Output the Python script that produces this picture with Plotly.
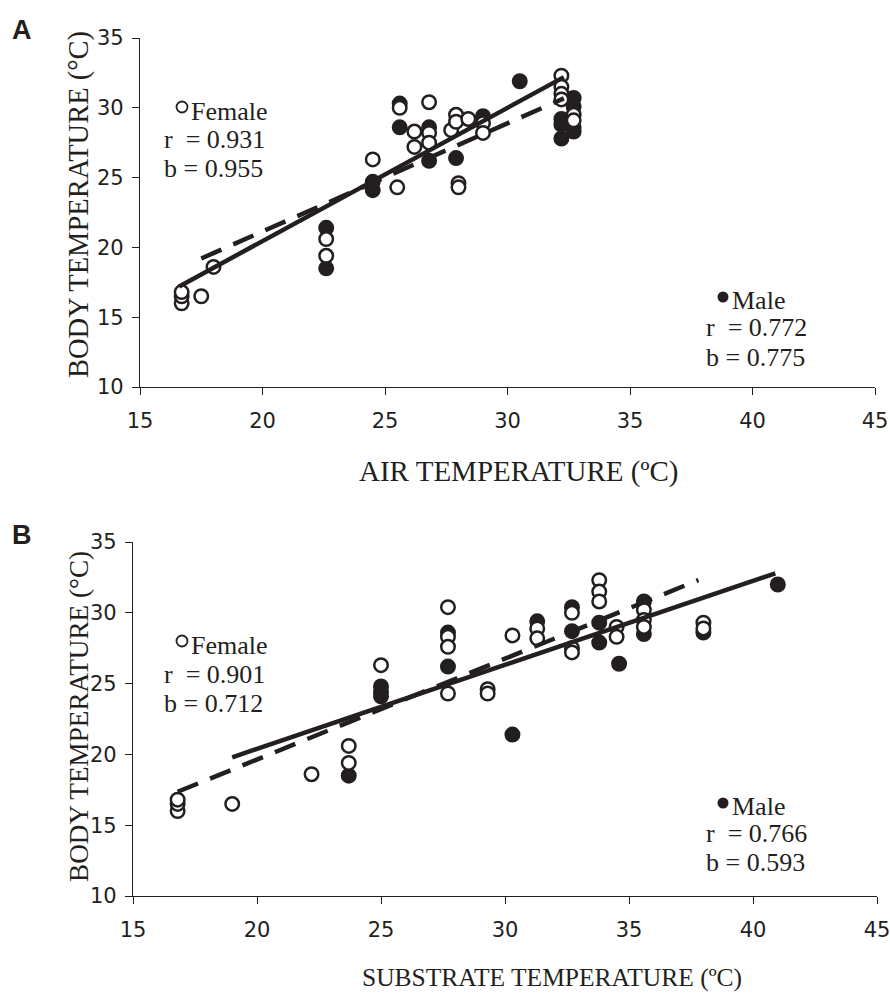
import plotly.graph_objects as go
import numpy as np

# ---------------- DATA ----------------
# Panel A: air temperature vs body temperature
a_female_x = [16.7, 16.7, 16.7, 17.5, 18.0, 22.6, 22.6, 24.5, 25.5, 25.6, 26.2, 26.2, 26.8, 26.8, 26.8,
              27.7, 27.9, 27.9, 28.0, 28.0, 28.4, 29.0, 29.0, 32.2, 32.2, 32.2, 32.2, 32.7, 32.7]
a_female_y = [16.0, 16.5, 16.8, 16.5, 18.6, 20.6, 19.4, 26.3, 24.3, 30.0, 28.3, 27.2, 30.4, 28.2, 27.5,
              28.4, 29.5, 29.0, 24.6, 24.3, 29.2, 28.9, 28.2, 32.3, 31.5, 31.0, 30.6, 29.5, 29.1]
a_male_x = [22.6, 22.6, 24.5, 24.5, 25.6, 25.6, 26.8, 26.8, 27.9, 29.0, 30.5, 32.2, 32.2, 32.2,
            32.7, 32.7, 32.7, 32.7]
a_male_y = [21.4, 18.5, 24.7, 24.1, 30.3, 28.6, 28.6, 26.2, 26.4, 29.4, 31.9, 29.2, 28.8, 27.8,
            30.7, 30.1, 28.6, 28.3]

# Panel B: substrate temperature vs body temperature
b_female_x = [16.8, 16.8, 16.8, 19.0, 22.2, 23.7, 23.7, 25.0, 27.7, 27.7, 27.7, 27.7, 29.3, 29.3,
              30.3, 31.3, 31.3, 32.7, 32.7, 32.7, 33.8, 33.8, 33.8, 34.5, 34.5, 35.6, 35.6, 35.6,
              38.0, 38.0]
b_female_y = [16.0, 16.5, 16.8, 16.5, 18.6, 20.6, 19.4, 26.3, 30.4, 28.3, 27.6, 24.3, 24.6, 24.3,
              28.4, 28.9, 28.2, 30.0, 27.5, 27.2, 32.3, 31.5, 30.8, 29.0, 28.3, 30.2, 29.5, 29.0,
              29.3, 28.9]
b_male_x = [23.7, 25.0, 25.0, 25.0, 27.7, 27.7, 30.3, 31.3, 32.7, 32.7, 33.8, 33.8, 34.6, 35.6,
            35.6, 38.0, 41.0]
b_male_y = [18.5, 24.8, 24.4, 24.1, 28.6, 26.2, 21.4, 29.4, 30.4, 28.7, 29.3, 27.9, 26.4, 30.8,
            28.5, 28.6, 32.0]

# Regression lines: [x start, x end], intercept, slope
a_female_fit_x = [16.6, 32.3]; a_female_fit = (1.35, 0.955)
a_male_fit_x = [17.5, 32.3];   a_male_fit = (5.64, 0.775)
b_male_fit_x = [19.0, 40.9];   b_male_fit = (8.53, 0.593)
b_female_fit_x = [16.8, 37.8]; b_female_fit = (5.40, 0.712)

# Stats text
a_female_stats = ["r\u00a0\u00a0= 0.931", "b = 0.955"]
a_male_stats = ["r\u00a0\u00a0= 0.772", "b = 0.775"]
b_female_stats = ["r\u00a0\u00a0= 0.901", "b = 0.712"]
b_male_stats = ["r\u00a0\u00a0= 0.766", "b = 0.593"]

x_ticks = [15, 20, 25, 30, 35, 40, 45]
y_ticks = [10, 15, 20, 25, 30, 35]

# ---------------- FIGURE ----------------
W, H = 890, 997
INK = "#231f20"

def px(x):
    return x / W

def py(y):
    return 1 - y / H

fig = go.Figure()

def add_panel(fx, fy, mx, my, xa, ya):
    fig.add_trace(go.Scatter(x=mx, y=my, mode="markers", xaxis=xa, yaxis=ya,
                             marker=dict(symbol="circle", size=13.5, color=INK,
                                         line=dict(color=INK, width=2.5)),
                             showlegend=False, hoverinfo="skip"))
    fig.add_trace(go.Scatter(x=fx, y=fy, mode="markers", xaxis=xa, yaxis=ya,
                             marker=dict(symbol="circle", size=13.5, color="white",
                                         line=dict(color=INK, width=2.5)),
                             showlegend=False, hoverinfo="skip"))

def add_fit(xr, coef, xa, ya, dash):
    xs = np.array(xr)
    ys = coef[0] + coef[1] * xs
    fig.add_trace(go.Scatter(x=xs, y=ys, mode="lines", xaxis=xa, yaxis=ya,
                             line=dict(color=INK, width=4.5, dash=dash),
                             showlegend=False, hoverinfo="skip"))

add_panel(a_female_x, a_female_y, a_male_x, a_male_y, "x", "y")
add_fit(a_male_fit_x, a_male_fit, "x", "y", "22px,13px")
add_fit(a_female_fit_x, a_female_fit, "x", "y", "solid")

add_panel(b_female_x, b_female_y, b_male_x, b_male_y, "x2", "y2")
add_fit(b_female_fit_x, b_female_fit, "x2", "y2", "22px,13px")
add_fit(b_male_fit_x, b_male_fit, "x2", "y2", "solid")

tickfont = dict(family="DejaVu Sans", size=21, color=INK)
common_x = dict(range=[15, 45], tickvals=x_ticks, showgrid=False, zeroline=False,
                showline=True, linecolor=INK, linewidth=1.3, ticks="outside", ticklen=7,
                tickcolor=INK, tickwidth=1.3, tickfont=tickfont, ticklabelstandoff=8,
                ticklabeloverflow="allow", fixedrange=True, automargin=False)
common_y = dict(range=[10, 35], tickvals=y_ticks, showgrid=False, zeroline=False,
                showline=True, linecolor=INK, linewidth=1.3, ticks="outside", ticklen=7,
                tickcolor=INK, tickwidth=1.3, tickfont=tickfont, ticklabelstandoff=4,
                ticklabeloverflow="allow", fixedrange=True, automargin=False)

fig.update_layout(
    template="none",
    width=W, height=H,
    margin=dict(l=0, r=0, t=0, b=0, pad=0, autoexpand=False),
    paper_bgcolor="white", plot_bgcolor="white",
    showlegend=False,
    xaxis=dict(common_x, domain=[px(140), px(875)], anchor="y"),
    yaxis=dict(common_y, domain=[py(387), py(38)], anchor="x"),
    xaxis2=dict(common_x, domain=[px(133), px(877)], anchor="y2"),
    yaxis2=dict(common_y, domain=[py(896), py(542)], anchor="x2"),
)

serif = "Liberation Serif, Times New Roman, serif"
ann = []

def text(x, y, s, size=26, xanchor="left", family=serif, angle=0, bold=False):
    ann.append(dict(x=px(x), y=py(y), xref="paper", yref="paper", text=("<b>%s</b>" % s) if bold else s,
                    showarrow=False, xanchor=xanchor, yanchor="middle", textangle=angle,
                    font=dict(family=family, size=size, color=INK)))

# axis titles
text(518, 472, "AIR TEMPERATURE (ºC)", size=29, xanchor="center")
text(552, 977, "SUBSTRATE TEMPERATURE (ºC)", size=25.5, xanchor="center")
text(79, 205, "BODY TEMPERATURE (°C)", size=28.5, xanchor="center", angle=-90)
text(79, 717, "BODY TEMPERATURE (°C)", size=27.2, xanchor="center", angle=-90)

# panel letters
text(10, 30, "A", size=27, family="Liberation Sans, Arial, sans-serif", bold=True)
text(10, 535, "B", size=27, family="Liberation Sans, Arial, sans-serif", bold=True)

shapes = []

def legend_block(cx, cy, filled, label, stats, x_stats, ys):
    r = 5.5
    shapes.append(dict(type="circle", xref="paper", yref="paper",
                       x0=px(cx - r), x1=px(cx + r), y0=py(cy + r), y1=py(cy - r),
                       fillcolor=INK if filled else "white",
                       line=dict(color=INK, width=0 if filled else 1.8)))
    text(cx + 7, ys[0], label)
    text(x_stats, ys[1], stats[0])
    text(x_stats, ys[2], stats[1])

legend_block(182, 107, False, "Female", a_female_stats, 162, [111, 140, 168])
legend_block(723, 297, True, "Male", a_male_stats, 704, [301, 328, 357])
legend_block(182, 641, False, "Female", b_female_stats, 162, [645, 674, 703])
legend_block(723, 803, True, "Male", b_male_stats, 704, [806, 833, 862])

fig.update_layout(annotations=ann, shapes=shapes)

# remove the default 8px page margin so the figure fills the window exactly
fig.write_html("out.html", config={"displayModeBar": False},
               post_script="document.body.style.margin='0';document.body.style.overflow='hidden';")
